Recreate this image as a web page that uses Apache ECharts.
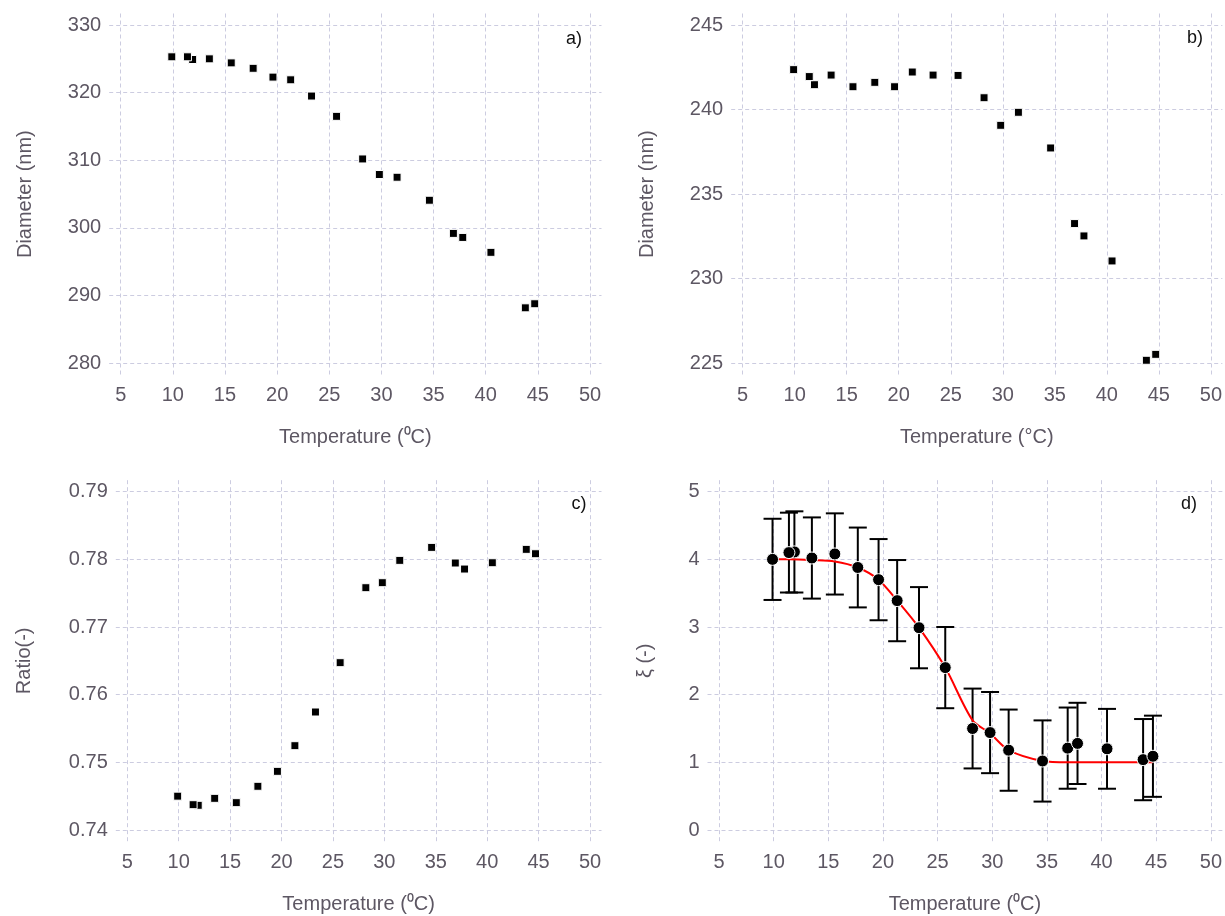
<!DOCTYPE html>
<html>
<head>
<meta charset="utf-8">
<script src="https://cdn.jsdelivr.net/npm/echarts@6/dist/echarts.min.js"></script>
<style>
  html, body { margin: 0; padding: 0; background: #ffffff; }
  #chart { width: 1225px; height: 916px; }
</style>
</head>
<body>
<div id="chart"></div>
<script>
// Measurement temperatures (°C), in acquisition order
const temperature = [9.9, 11.9, 11.4, 13.5, 15.6, 17.7, 19.6, 21.3, 23.3, 25.7, 28.2, 29.8, 31.5, 34.6, 36.9, 37.8, 40.5, 43.8, 44.7];

// a) hydrodynamic diameter (nm)
const diameterA = [325.3, 324.9, 325.3, 325.0, 324.4, 323.6, 322.3, 321.9, 319.5, 316.5, 310.2, 307.9, 307.5, 304.1, 299.2, 298.6, 296.4, 288.2, 288.8];
// b) diameter (nm)
const diameterB = [242.36, 241.47, 241.95, 242.04, 241.35, 241.61, 241.35, 242.22, 242.04, 242.02, 240.70, 239.07, 239.84, 237.73, 233.26, 232.53, 231.05, 225.18, 225.53];
// c) ratio (-)
const ratioC = [0.7450, 0.74365, 0.74374, 0.74468, 0.74404, 0.74646, 0.74867, 0.75246, 0.75744, 0.76473, 0.77581, 0.77655, 0.77985, 0.78177, 0.77946, 0.77857, 0.77950, 0.78148, 0.78083];
// d) xi (-) with its uncertainty
const xiD = [4.00, 4.11, 4.10, 4.02, 4.08, 3.88, 3.70, 3.39, 2.99, 2.40, 1.50, 1.44, 1.18, 1.02, 1.21, 1.28, 1.20, 1.04, 1.09];
const xiErr = [0.60, 0.60, 0.59, 0.60, 0.60, 0.59, 0.60, 0.60, 0.60, 0.60, 0.59, 0.60, 0.60, 0.60, 0.60, 0.60, 0.59, 0.60, 0.60];
// d) fitted transition curve
const fitT = [9.9, 11.4, 13.5, 15.6, 17.7, 19.6, 21.3, 23.3, 25.7, 28.2, 29.8, 31.5, 34.6, 36.9, 40.5, 44.7];
const fitXi = [4.00, 4.00, 3.99, 3.97, 3.88, 3.70, 3.39, 2.99, 2.40, 1.62, 1.43, 1.18, 1.02, 1.00, 1.00, 1.00];

// Tick values
const tempTicks = [5, 10, 15, 20, 25, 30, 35, 40, 45, 50];
const ticksA = [280, 290, 300, 310, 320, 330];
const ticksB = [225, 230, 235, 240, 245];
const ticksC = [0.74, 0.75, 0.76, 0.77, 0.78, 0.79];
const ticksD = [0, 1, 2, 3, 4, 5];

const FONT = '"Liberation Sans", Arial, sans-serif';
const GREY = '#5d5763';
const GRIDLINE = '#cccce0';
const PAD = 11.5; // breathing room between outer ticks and the panel edge (px)

// Panel frames: pixel positions of the first and last tick on each axis
const panels = [
  { x0: 120.7, x1: 590,  y0: 25,    y1: 363.3, yt: ticksA, xName: 'Temperature (\u2070C)', yName: 'Diameter (nm)', tag: 'a)', tagPos: [574, 39], dec: 0 },
  { x0: 742.7, x1: 1212, y0: 25,    y1: 363.3, yt: ticksB, xName: 'Temperature (\u00b0C)', yName: 'Diameter (nm)', tag: 'b)', tagPos: [1195, 38], dec: 0 },
  { x0: 127.3, x1: 590,  y0: 491.7, y1: 830,   yt: ticksC, xName: 'Temperature (\u2070C)', yName: 'Ratio(-)',      tag: 'c)', tagPos: [579, 504], dec: 2 },
  { x0: 719,   x1: 1212, y0: 491.7, y1: 830,   yt: ticksD, xName: 'Temperature (\u2070C)', yName: '\u03be (-)',     tag: 'd)', tagPos: [1189, 504], dec: 0 }
];

function extent(ticks, spanPx) {
  const lo = ticks[0], hi = ticks[ticks.length - 1];
  const perPx = (hi - lo) / spanPx;
  return [lo - PAD * perPx, hi + PAD * perPx];
}

const grids = [], xAxes = [], yAxes = [], graphics = [];
panels.forEach((p, i) => {
  grids.push({
    left: p.x0 - PAD, top: p.y0 - PAD,
    width: (p.x1 - p.x0) + 2 * PAD, height: (p.y1 - p.y0) + 2 * PAD,
    containLabel: false
  });
  const xe = extent(tempTicks, p.x1 - p.x0);
  const ye = extent(p.yt, p.y1 - p.y0);
  const split = { show: true, lineStyle: { color: GRIDLINE, type: [4, 3], width: 1 } };
  xAxes.push({
    type: 'value', gridIndex: i, min: xe[0], max: xe[1],
    axisLine: { show: false },
    axisTick: { show: false, customValues: tempTicks },
    axisLabel: { customValues: tempTicks, color: GREY, fontFamily: FONT, fontSize: 20, margin: 11 },
    splitLine: split,
    name: p.xName, nameLocation: 'middle', nameGap: 53,
    nameTextStyle: { color: GREY, fontFamily: FONT, fontSize: 20 }
  });
  yAxes.push({
    type: 'value', gridIndex: i, min: ye[0], max: ye[1],
    axisLine: { show: false },
    axisTick: { show: false, customValues: p.yt },
    axisLabel: {
      customValues: p.yt, color: GREY, fontFamily: FONT, fontSize: 20, margin: 8,
      formatter: v => v.toFixed(p.dec)
    },
    splitLine: split,
    name: p.yName, nameLocation: 'middle', nameGap: i === 3 ? 52 : (i === 2 ? 81 : 74),
    nameTextStyle: { color: GREY, fontFamily: FONT, fontSize: 20 }
  });
  graphics.push({
    type: 'text', x: p.tagPos[0], y: p.tagPos[1],
    style: { text: p.tag, fill: '#111111', font: '18px "Liberation Sans", Arial, sans-serif', textAlign: 'center', textVerticalAlign: 'middle' }
  });
});

const pairs = ys => temperature.map((t, k) => [t, ys[k]]);
const squareStyle = { color: '#000000', borderColor: '#ffffff', borderWidth: 1, opacity: 1 };

const series = [
  { type: 'scatter', xAxisIndex: 0, yAxisIndex: 0, symbol: 'rect', symbolSize: 8, itemStyle: squareStyle, data: pairs(diameterA) },
  { type: 'scatter', xAxisIndex: 1, yAxisIndex: 1, symbol: 'rect', symbolSize: 8, itemStyle: squareStyle, data: pairs(diameterB) },
  { type: 'scatter', xAxisIndex: 2, yAxisIndex: 2, symbol: 'rect', symbolSize: 8, itemStyle: squareStyle, data: pairs(ratioC) },
  {
    // error bars for xi
    type: 'custom', xAxisIndex: 3, yAxisIndex: 3, z: 2,
    data: temperature.map((t, k) => [t, xiD[k] - xiErr[k], xiD[k] + xiErr[k]]),
    renderItem: (params, api) => {
      const lo = api.coord([api.value(0), api.value(1)]);
      const hi = api.coord([api.value(0), api.value(2)]);
      const cap = 9;
      const st = { stroke: '#000000', lineWidth: 2 };
      return {
        type: 'group',
        children: [
          { type: 'line', shape: { x1: lo[0], y1: lo[1], x2: hi[0], y2: hi[1] }, style: st },
          { type: 'line', shape: { x1: lo[0] - cap, y1: lo[1], x2: lo[0] + cap, y2: lo[1] }, style: st },
          { type: 'line', shape: { x1: hi[0] - cap, y1: hi[1], x2: hi[0] + cap, y2: hi[1] }, style: st }
        ]
      };
    }
  },
  {
    type: 'line', xAxisIndex: 3, yAxisIndex: 3, z: 3, smooth: 0.3, symbol: 'none',
    lineStyle: { color: '#ff0000', width: 2 },
    data: fitT.map((t, k) => [t, fitXi[k]])
  },
  {
    type: 'scatter', xAxisIndex: 3, yAxisIndex: 3, z: 4, symbol: 'circle', symbolSize: 12,
    itemStyle: { color: '#000000', borderColor: '#ffffff', borderWidth: 1, opacity: 1 },
    data: pairs(xiD)
  }
];

const chart = echarts.init(document.getElementById('chart'), null, { renderer: 'canvas' });
chart.setOption({
  backgroundColor: '#ffffff',
  animation: false,
  textStyle: { fontFamily: FONT },
  grid: grids,
  xAxis: xAxes,
  yAxis: yAxes,
  graphic: graphics,
  series: series
});
</script>
</body>
</html>
